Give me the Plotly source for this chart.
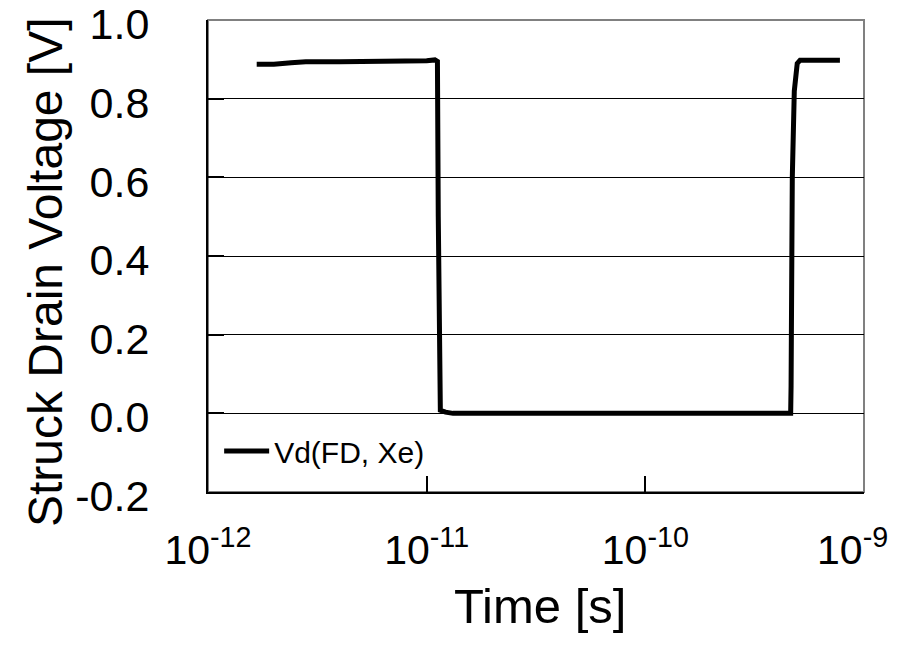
import plotly.graph_objects as go

# Data
time_s = [1.67e-12, 2.0e-12, 2.4e-12, 2.8e-12, 4e-12, 6e-12, 8e-12, 1.0e-11, 1.09e-11,
          1.12e-11, 1.13e-11, 1.14e-11, 1.155e-11, 1.22e-11, 1.32e-11, 3e-11, 1e-10, 3e-10,
          4.62e-10, 4.64e-10, 4.7e-10, 4.8e-10, 4.85e-10, 4.95e-10, 5.1e-10, 6e-10, 7.76e-10]
vd = [0.888, 0.888, 0.892, 0.894, 0.894, 0.894, 0.895, 0.897, 0.899,
      0.895, 0.5, 0.02, 0.008, 0.003, 0.0, 0.0, 0.0, 0.0,
      0.0, 0.07, 0.6, 0.82, 0.86, 0.89, 0.898, 0.898, 0.898]
series_name = "Vd(FD, Xe)"
x_title = "Time [s]"
y_title = "Struck Drain Voltage [V]"

x_tickvals = [1e-12, 1e-11, 1e-10, 1e-9]
x_ticktext = ["10<sup>-12</sup>", "10<sup>-11</sup>", "10<sup>-10</sup>", "10<sup>-9</sup>&nbsp;&nbsp;"]
y_tickvals = [-0.2, 0.0, 0.2, 0.4, 0.6, 0.8, 1.0]
y_ticktext = ["-0.2", "0.0", "0.2", "0.4", "0.6", "0.8", "1.0"]

FONT = "Liberation Sans, Arial, sans-serif"

fig = go.Figure()
fig.add_trace(go.Scatter(x=time_s, y=vd, mode="lines", name=series_name,
                         line=dict(color="black", width=5)))

fig.update_layout(
    width=908, height=662,
    margin=dict(l=208, r=44, t=20, b=170, autoexpand=False),
    paper_bgcolor="white", plot_bgcolor="white",
    font=dict(family=FONT, color="black"),
    showlegend=True,
    legend=dict(x=0.017, y=0.087, xanchor="left", yanchor="middle", itemwidth=45,
                bgcolor="rgba(0,0,0,0)", font=dict(size=30, family=FONT)),
    shapes=[dict(type="rect", xref="paper", yref="paper", x0=0, y0=0, x1=1, y1=1,
                 line=dict(color="#808080", width=2), layer="below")],
    annotations=[
        dict(text=y_title, xref="paper", yref="paper", x=-0.2485, y=0.466,
             xanchor="center", yanchor="middle", textangle=-90, showarrow=False,
             font=dict(size=48, family=FONT)),
        dict(text=x_title, xref="paper", yref="paper", x=0.506, y=-0.2415,
             xanchor="center", yanchor="middle", showarrow=False,
             font=dict(size=49, family=FONT)),
    ],
)

fig.update_xaxes(
    type="log", range=[-12, -9],
    tickvals=x_tickvals, ticktext=x_ticktext,
    ticks="inside", ticklen=16, tickwidth=2, tickcolor="black",
    showline=True, linecolor="black", linewidth=2,
    showgrid=False, zeroline=False, automargin=False,
    tickfont=dict(size=41, family=FONT),
    ticklabelstandoff=21, ticklabeloverflow="allow",
)
fig.update_yaxes(
    range=[-0.2, 1.0005], tickvals=y_tickvals, ticktext=y_ticktext,
    ticks="inside", ticklen=16, tickwidth=2, tickcolor="black",
    showline=True, linecolor="black", linewidth=2,
    showgrid=True, gridcolor="black", gridwidth=1,
    zeroline=False, automargin=False,
    tickfont=dict(size=43, family=FONT),
    ticklabelstandoff=48, ticklabelshift=4, ticklabeloverflow="allow",
)

fig.write_html("out.html", config={"displayModeBar": False},
               post_script="document.body.style.margin='0';document.body.style.overflow='hidden';")
